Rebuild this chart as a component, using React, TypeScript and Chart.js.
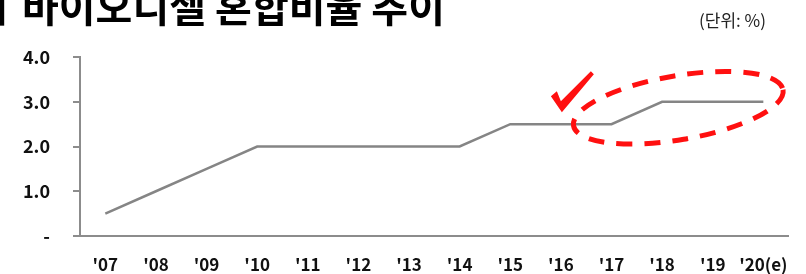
import React, { useEffect, useRef } from "react";
import { Chart, registerables } from "chart.js";

Chart.register(...registerables);

const categories = ["'07", "'08", "'09", "'10", "'11", "'12", "'13", "'14", "'15", "'16", "'17", "'18", "'19", "'20(e)"];
const blendRatio = [0.5, 1.0, 1.5, 2.0, 2.0, 2.0, 2.0, 2.0, 2.5, 2.5, 2.5, 3.0, 3.0, 3.0];
const yTicks = [0, 1, 2, 3, 4];
const titleBar = "ㅣ";
const titleText = "바이오디젤 혼합비율 추이";
const unitText = "(단위: %)";

const AXIS = "#8c8c8c";
const FONT = "'Noto Sans CJK KR', 'Noto Sans', sans-serif";

const overlayPlugin = {
  id: "overlay",
  afterDraw(chart: any) {
    const ctx = chart.ctx;
    const xs = chart.scales.x;
    const ys = chart.scales.y;
    ctx.save();
    // title
    ctx.fillStyle = "#000";
    ctx.font = `bold 40px ${FONT}`;
    ctx.textBaseline = "alphabetic";
    ctx.textAlign = "left";
    ctx.fillText(titleBar, -17, 22);
    ctx.fillText(titleText, 22, 22);
    // unit
    ctx.font = `17px ${FONT}`;
    ctx.textAlign = "right";
    ctx.fillStyle = "#222";
    ctx.fillText(unitText, 766, 27);

    // dashed ellipse around '18-'20
    const step = xs.getPixelForValue(12) - xs.getPixelForValue(11);
    const cx = xs.getPixelForValue(11) + 0.32 * step;
    const cy = ys.getPixelForValue(3) + 6;
    ctx.strokeStyle = "#ff1010";
    ctx.lineWidth = 5;
    ctx.setLineDash([16, 12]);
    ctx.lineCap = "butt";
    ctx.beginPath();
    ctx.ellipse(cx, cy, step * 2.1, 32, -0.17, 0, Math.PI * 2);
    ctx.stroke();
    ctx.setLineDash([]);

    // check mark near '16
    const ax = xs.getPixelForValue(9) - 1;
    const ay = ys.getPixelForValue(2.5) - 14;
    ctx.fillStyle = "#ff1010";
    ctx.beginPath();
    ctx.moveTo(ax - 9, ay - 14);
    ctx.lineTo(ax - 3, ay - 19);
    ctx.lineTo(ax + 1, ay - 9);
    ctx.lineTo(ax + 31, ay - 39);
    ctx.lineTo(ax + 34, ay - 36);
    ctx.lineTo(ax + 2, ay + 2);
    ctx.closePath();
    ctx.fill();
    ctx.restore();
  },
};

export default function App() {
  const ref = useRef<HTMLCanvasElement | null>(null);
  useEffect(() => {
    if (!ref.current) return;
    const chart = new Chart(ref.current, {
      type: "line",
      data: {
        labels: categories,
        datasets: [
          {
            data: blendRatio,
            borderColor: "#858585",
            borderWidth: 2.5,
            pointRadius: 0,
            tension: 0,
          },
        ],
      },
      options: {
        animation: false,
        responsive: false,
        maintainAspectRatio: false,
        layout: { padding: { top: 57, right: 14, left: 0, bottom: 0 } },
        plugins: { legend: { display: false }, tooltip: { enabled: false }, title: { display: false } },
        scales: {
          x: {
            offset: true,
            grid: { display: false, drawTicks: false },
            border: { display: true, color: AXIS, width: 2 },
            ticks: {
              color: "#111",
              padding: 18,
              maxRotation: 0,
              autoSkip: false,
              font: { family: FONT, size: 17, weight: "bold" },
            },
            afterFit(s: any) {
              s.height = 38;
            },
          },
          y: {
            min: 0,
            max: 4,
            afterBuildTicks(s: any) {
              s.ticks = yTicks.map((v) => ({ value: v }));
            },
            grid: { drawOnChartArea: false, drawTicks: true, tickLength: 7, color: AXIS, lineWidth: 2 },
            border: { display: true, color: AXIS, width: 2 },
            ticks: {
              color: "#111",
              padding: 23,
              font: { family: FONT, size: 18, weight: "bold" },
              callback: (v: any) => (Number(v) === 0 ? "-" : Number(v).toFixed(1)),
            },
            afterFit(s: any) {
              s.width = 80;
            },
          },
        },
      },
      plugins: [overlayPlugin],
    });
    return () => chart.destroy();
  }, []);
  return (
    <div style={{ position: "absolute", left: 0, top: 0, width: 806, height: 274, background: "#fff" }}>
      <canvas ref={ref} width={806} height={274} style={{ display: "block", width: 806, height: 274 }} />
    </div>
  );
}
